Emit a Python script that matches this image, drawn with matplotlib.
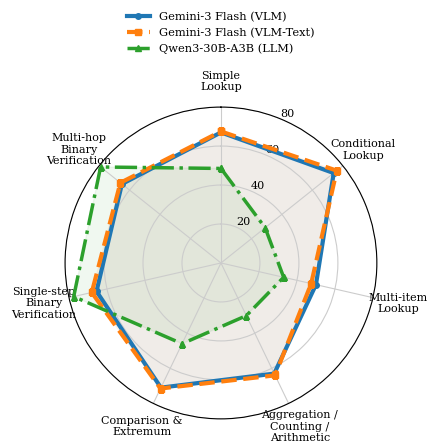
import numpy as np
import matplotlib
matplotlib.use("Agg")
import matplotlib.pyplot as plt

plt.rcParams["font.family"] = "DejaVu Serif"

categories = ["Simple\nLookup", "Conditional\nLookup", "Multi-item\nLookup",
              "Aggregation /\nCounting /\nArithmetic", "Comparison &\nExtremum",
              "Single-step\nBinary\nVerification", "Multi-hop\nBinary\nVerification"]

vlm = [67, 74, 50, 63, 71, 65.5, 65]
vlm_text = [67.5, 76, 47.5, 64, 71.5, 68, 66]
llm = [48.5, 29, 33, 30, 46, 77.5, 79]

series = [
    ("Gemini-3 Flash (VLM)", vlm, "tab:blue", "-", "o", 3.0, 4),
    ("Gemini-3 Flash (VLM-Text)", vlm_text, "tab:orange", "--", "s", 3.0, 5),
    ("Qwen3-30B-A3B (LLM)", llm, "tab:green", "-.", "^", 2.5, 5),
]

n = len(categories)
angles = np.linspace(0, 2 * np.pi, n, endpoint=False).tolist()
angles += angles[:1]

fig = plt.figure(figsize=(4.33, 4.48), dpi=100)
ax = fig.add_axes([0.150, 0.065, 0.7206, 0.696], projection="polar")
ax.set_theta_offset(np.pi / 2)
ax.set_theta_direction(-1)

for label, vals, color, ls, mk, lw, ms in series:
    v = vals + vals[:1]
    ax.plot(angles, v, color=color, linestyle=ls, marker=mk, linewidth=lw,
            markersize=ms, label=label)
    ax.fill(angles, v, color=color, alpha=0.07)

ax.set_xticks(angles[:-1])
ax.set_xticklabels(categories, fontsize=8)
ax.set_ylim(0, 80)
ax.set_yticks([20, 40, 60, 80])
ax.set_yticklabels(["20", "40", "60", "80"], fontsize=8)
ax.grid(color="#cccccc", linewidth=0.8)
ax.tick_params(axis="x", pad=8)

fig.legend(loc="upper center", bbox_to_anchor=(0.51, 0.997), frameon=False,
           fontsize=8.2, handlelength=2.0, labelspacing=0.5)

fig.savefig("out.png", dpi=100)
